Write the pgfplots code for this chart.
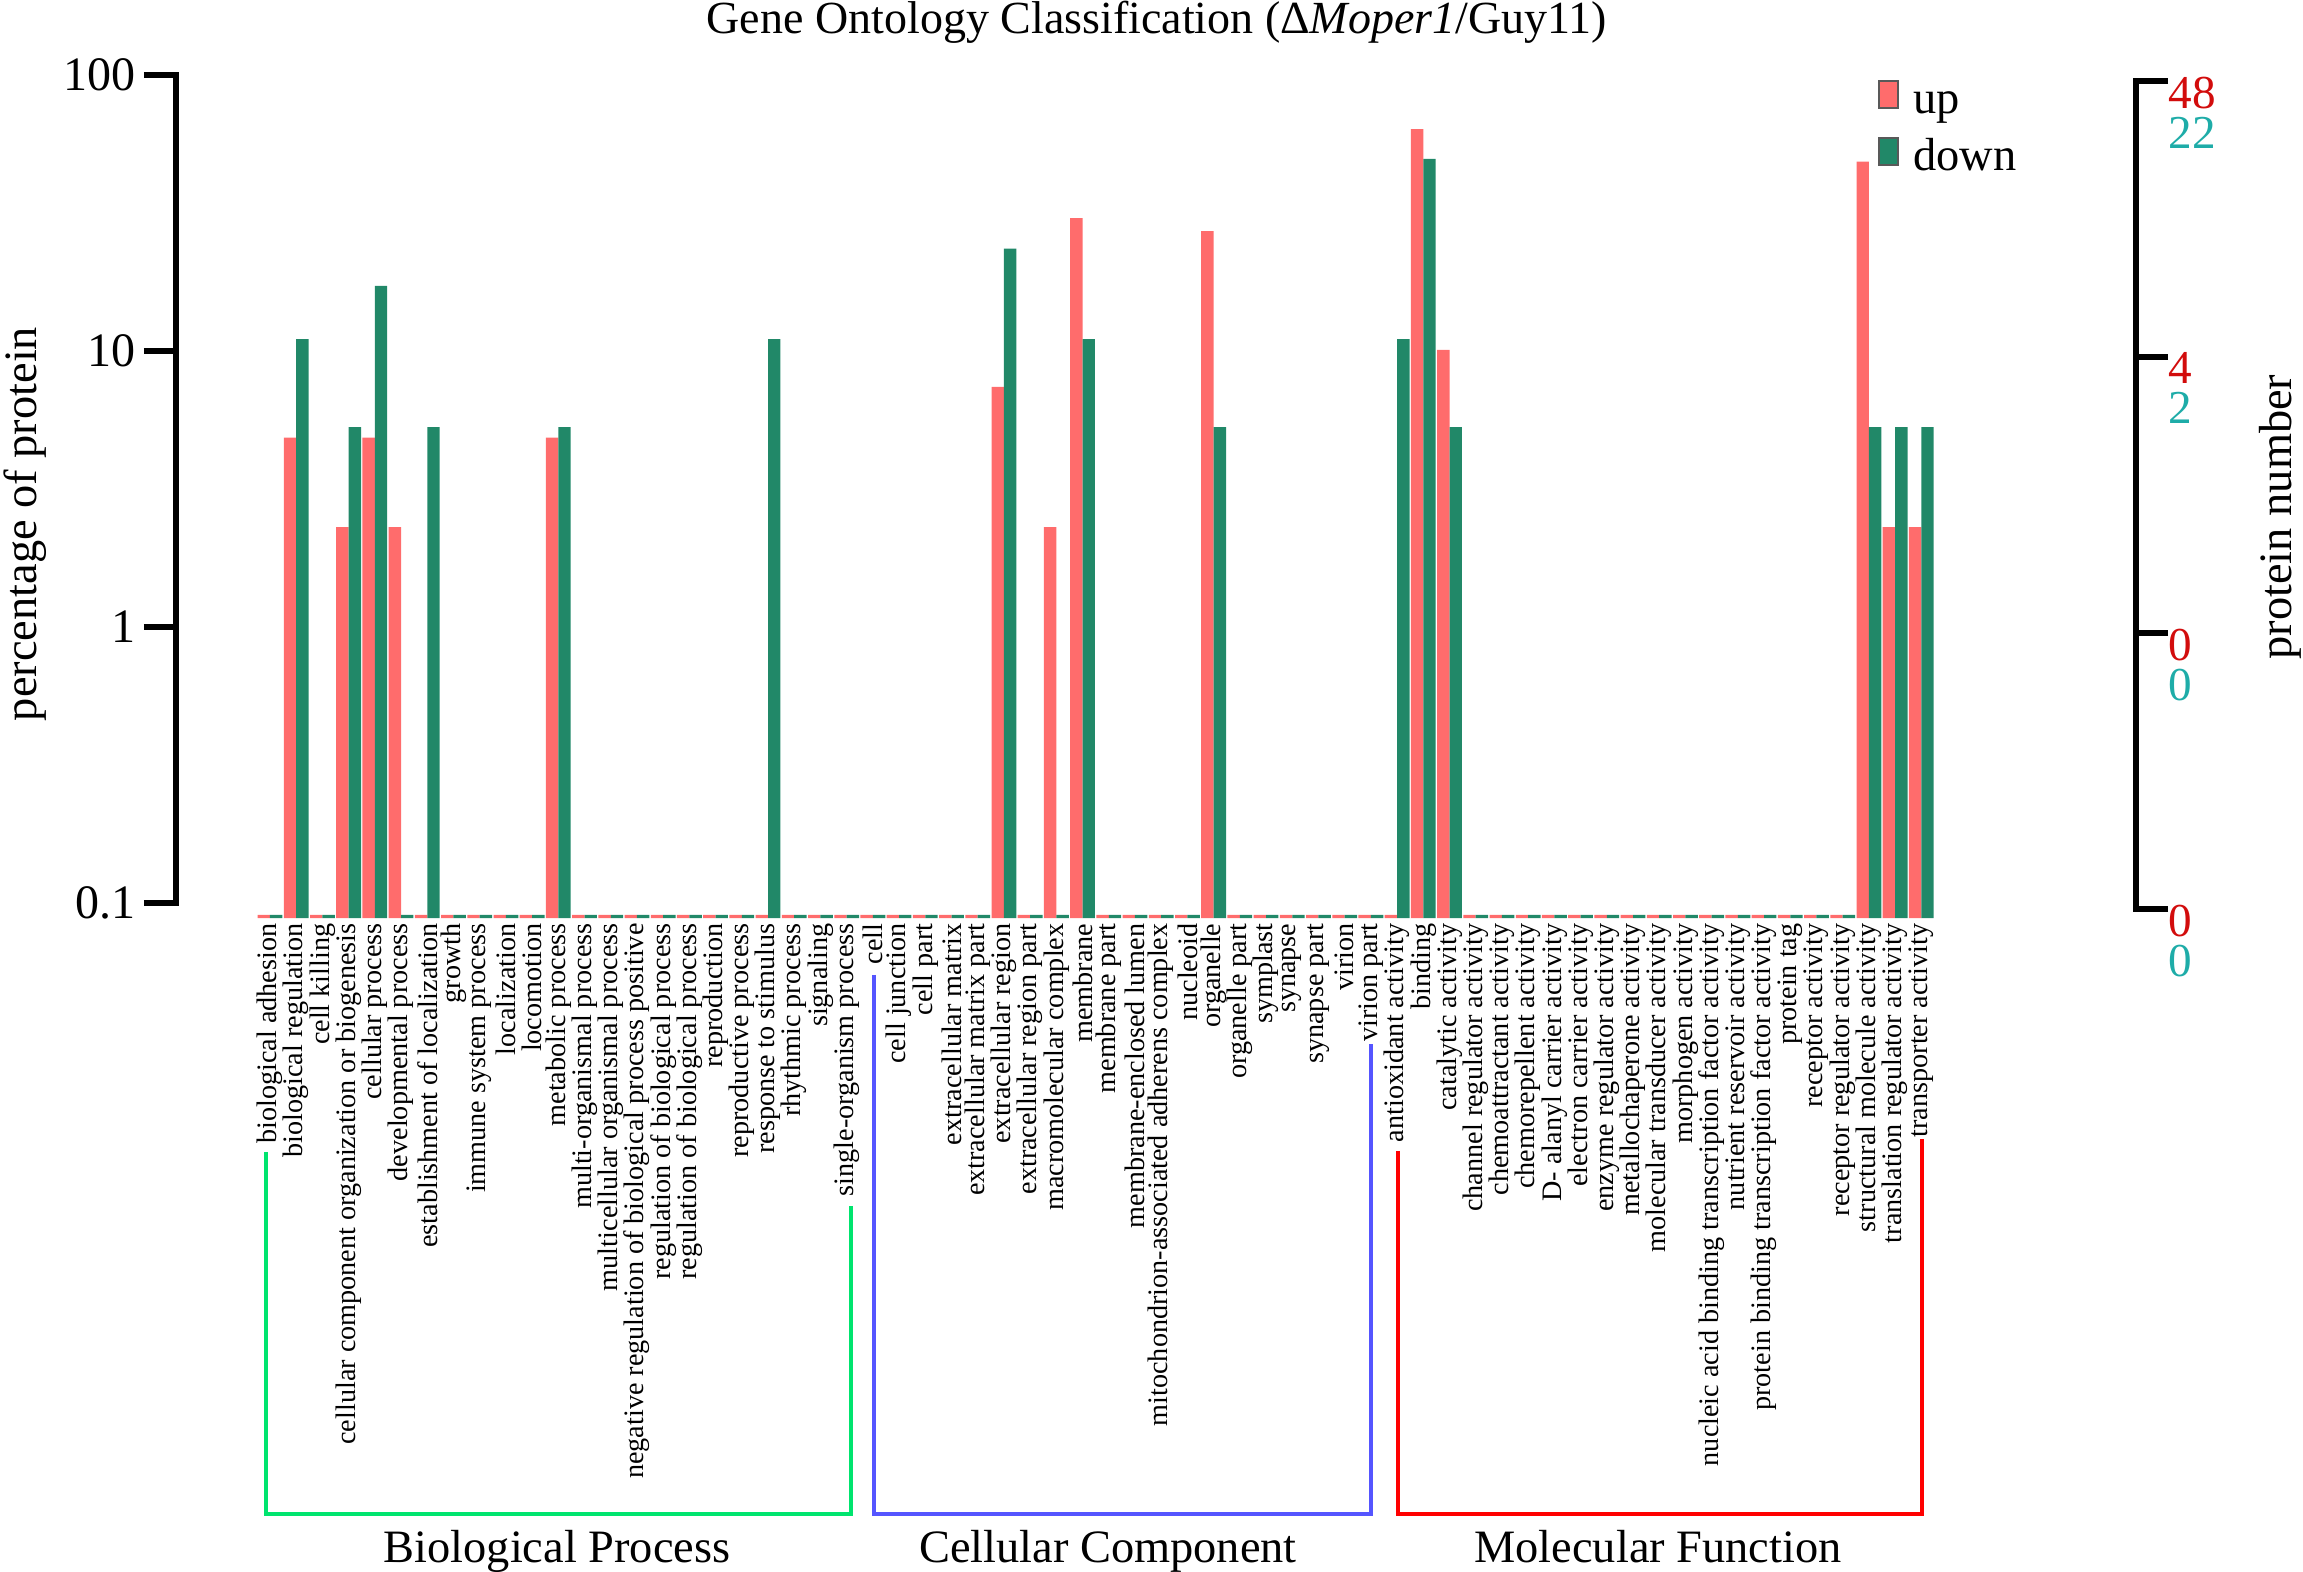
\documentclass[border=0pt]{standalone}
\usepackage{pgfplots}
\pgfplotsset{compat=1.18}
\usepackage{pgfplotstable}
\usepackage{fontspec}
\setmainfont{Liberation Serif}
\definecolor{UpC}{RGB}{255,108,108}
\definecolor{DnC}{RGB}{33,136,104}
\definecolor{RR}{RGB}{210,12,12}
\definecolor{RC}{RGB}{30,172,168}
\definecolor{BrG}{RGB}{0,228,110}
\definecolor{BrB}{RGB}{85,85,255}
\definecolor{BrR}{RGB}{255,0,0}
\newcommand\lbl{\fontsize{11.6pt}{13pt}\selectfont}
\newcommand\ttl{\fontsize{11.5pt}{13pt}\selectfont}
\newcommand\tkf{\fontsize{12pt}{14pt}\selectfont}
\newcommand\xf{\fontsize{7.05pt}{8pt}\selectfont}
\newcommand\rf{\fontsize{11.8pt}{10pt}\selectfont}
\pgfplotsset{sqlegend/.style={legend image code/.code={\draw[##1,/tikz/.cd,draw=black!65,line width=0.5pt] (0pt,-1.4pt) rectangle (4.75pt,5.35pt);}}}

\pgfplotstableread{
idx up down
0 0.0905 0.0905
1 4.85 11.05
2 0.0905 0.0905
3 2.3 5.3
4 4.85 17.2
5 2.3 0.0905
6 0.0905 5.3
7 0.0905 0.0905
8 0.0905 0.0905
9 0.0905 0.0905
10 0.0905 0.0905
11 4.85 5.3
12 0.0905 0.0905
13 0.0905 0.0905
14 0.0905 0.0905
15 0.0905 0.0905
16 0.0905 0.0905
17 0.0905 0.0905
18 0.0905 0.0905
19 0.0905 11.05
20 0.0905 0.0905
21 0.0905 0.0905
22 0.0905 0.0905
23 0.0905 0.0905
24 0.0905 0.0905
25 0.0905 0.0905
26 0.0905 0.0905
27 0.0905 0.0905
28 7.42 23.5
29 0.0905 0.0905
30 2.3 0.0905
31 30.3 11.05
32 0.0905 0.0905
33 0.0905 0.0905
34 0.0905 0.0905
35 0.0905 0.0905
36 27.2 5.3
37 0.0905 0.0905
38 0.0905 0.0905
39 0.0905 0.0905
40 0.0905 0.0905
41 0.0905 0.0905
42 0.0905 0.0905
43 0.0905 11.05
44 63.7 49.7
45 10.1 5.3
46 0.0905 0.0905
47 0.0905 0.0905
48 0.0905 0.0905
49 0.0905 0.0905
50 0.0905 0.0905
51 0.0905 0.0905
52 0.0905 0.0905
53 0.0905 0.0905
54 0.0905 0.0905
55 0.0905 0.0905
56 0.0905 0.0905
57 0.0905 0.0905
58 0.0905 0.0905
59 0.0905 0.0905
60 0.0905 0.0905
61 48.5 5.3
62 2.3 5.3
63 2.3 5.3
}\godata

\begin{document}
\begin{tikzpicture}
\useasboundingbox (-44pt,229.5pt) rectangle (531.75pt,-163.5pt);
\begin{axis}[
  at={(0,0)}, anchor=south west,
  scale only axis, width=490pt, height=210.75pt,
  xmin=-3.586, xmax=71.19, ymin=0.0882, ymax=100,
  ymode=log, log origin=infty,
  enlargelimits=false, clip=false,
  ybar=0pt, bar width=3.1pt,
  axis x line*=bottom, axis y line*=left, axis line style={draw=none},
  xtick={0,...,63},
  xticklabels={biological adhesion, biological regulation, cell killing, cellular component organization or biogenesis, cellular process, developmental process, establishment of localization, growth, immune system process, localization, locomotion, metabolic process, multi-organismal process, multicellular organismal process, negative regulation of biological process positive, regulation of biological process, regulation of biological process, reproduction, reproductive process, response to stimulus, rhythmic process, signaling, single-organism process, cell, cell junction, cell part, extracellular matrix, extracellular matrix part, extracellular region, extracellular region part, macromolecular complex, membrane, membrane part, membrane-enclosed lumen, mitochondrion-associated adherens complex, nucleoid, organelle, organelle part, symplast, synapse, synapse part, virion, virion part, antioxidant activity, binding, catalytic activity, channel regulator activity, chemoattractant activity, chemorepellent activity, D- alanyl carrier activity, electron carrier activity, enzyme regulator activity, metallochaperone activity, molecular transducer activity, morphogen activity, nucleic acid binding transcription factor activity, nutrient reservoir activity, protein binding transcription factor activity, protein tag, receptor activity, receptor regulator activity, structural molecule activity, translation regulator activity, transporter activity},
  xtick style={draw=none},
  xticklabel style={yshift=8pt, rotate=90, anchor=east, font=\xf, inner sep=1.2pt},
  ytick={0.1,1,10,100}, yticklabels={0.1,1,10,100}, yminorticks=false,
  ytick style={line width=1.5pt, black},
  tick align=outside, major tick length=8pt,
  yticklabel style={font=\tkf, inner sep=0pt, xshift=-2pt},
  /pgf/number format/assume math mode=true,
  legend style={at={(0.8684,0.994)}, anchor=north west, draw=none, fill=none,
    inner sep=0pt, outer sep=0pt, font=\lbl, row sep=3.5pt, column sep=0pt,
    nodes={inner sep=0pt, text height=8pt, text depth=2.5pt}},
  legend cell align=left,
]
\addplot[fill=UpC, draw=none, sqlegend] table[x=idx, y=up] {\godata};
\addlegendentry{\hspace*{3.6pt}up}
\addplot[fill=DnC, draw=none, sqlegend] table[x=idx, y=down] {\godata};
\addlegendentry{\hspace*{3.6pt}down}
\draw[line width=1.6pt, line cap=rect] (axis cs:-3.586,0.1) -- (axis cs:-3.586,100);
\end{axis}
\begin{axis}[
  at={(0,0)}, anchor=south west,
  scale only axis, width=490pt, height=210.75pt,
  xmin=-3.586, xmax=71.19, ymin=0.0882, ymax=100,
  ymode=log, enlargelimits=false, clip=false,
  axis x line=none, axis y line*=right, axis line style={draw=none},
  ytick={0.0951,0.951,9.51,95.1},
  yticklabels={{\textcolor{RR}{0}\\\textcolor{RC}{0}},{\textcolor{RR}{0}\\\textcolor{RC}{0}},{\textcolor{RR}{4}\\\textcolor{RC}{2}},{\textcolor{RR}{48}\\\textcolor{RC}{22}}},
  yminorticks=false,
  ytick style={line width=1.5pt, black},
  tick align=outside, major tick length=8pt,
  yticklabel style={font=\rf, align=left, anchor=north west, inner sep=0pt, yshift=1.25pt},
  /pgf/number format/assume math mode=true,
]
\addplot[draw=none] coordinates {(0,1)};
\draw[line width=1.6pt, line cap=rect] (axis cs:71.19,0.0951) -- (axis cs:71.19,95.1);
\end{axis}
% axis titles
\node[rotate=90, font=\lbl, inner sep=0pt] at (-37.75pt,98.5pt) {percentage of protein};
\node[rotate=90, font=\lbl, inner sep=0pt] at (526pt,100.25pt) {protein number};
\node[anchor=north, font=\ttl, inner sep=0pt] at (245.25pt,229.5pt) {Gene Ontology Classification (Δ\textit{Moper1}/Guy11)};
% group brackets
\draw[BrG, line width=1.1pt] (22.5pt,-58.5pt) -- (22.5pt,-149pt) -- (168.75pt,-149pt) -- (168.75pt,-72pt);
\draw[BrB, line width=1.1pt] (174.5pt,-14.25pt) -- (174.5pt,-149pt) -- (298.75pt,-149pt) -- (298.75pt,-31.5pt);
\draw[BrR, line width=1.1pt] (305.5pt,-58.25pt) -- (305.5pt,-149pt) -- (436.5pt,-149pt) -- (436.5pt,-55.25pt);
\node[anchor=base, font=\lbl, inner sep=0pt] at (95.25pt,-161pt) {Biological Process};
\node[anchor=base, font=\lbl, inner sep=0pt] at (233pt,-161pt) {Cellular Component};
\node[anchor=base, font=\lbl, inner sep=0pt] at (370.5pt,-161pt) {Molecular Function};
\end{tikzpicture}
\end{document}
